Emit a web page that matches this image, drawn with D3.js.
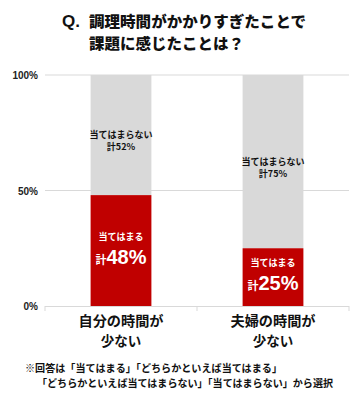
<!DOCTYPE html>
<html><head><meta charset="utf-8">
<script src="https://cdn.jsdelivr.net/npm/d3@7/dist/d3.min.js"></script>
<style>body{margin:0;background:#fff}svg{display:block;font-family:"Noto Sans CJK JP","Noto Sans",sans-serif}</style>
</head><body><svg id="c" width="361" height="400"></svg>
<script>
const categories = [["自分の時間が","少ない"],["夫婦の時間が","少ない"]];
const applies = [48, 25];
const notApplies = [52, 75];
const yTicks = [0, 50, 100];
const titleLines = ["調理時間がかかりすぎたことで","課題に感じたことは？"];
const noteLines = ["※回答は「当てはまる」「どちらかといえば当てはまる」","「どちらかといえば当てはまらない」「当てはまらない」から選択"];

const svg = d3.select("#c");
const pL = 45, pR = 349, pT = 75, pB = 306;
const x = d3.scaleBand().domain([0,1]).range([pL,pR]).paddingInner(0.6).paddingOuter(0.3);
const y = d3.scaleLinear().domain([0,100]).range([pB, pT]);

// gridlines
svg.append("g").selectAll("line").data(yTicks.filter(d=>d>0)).join("line")
  .attr("x1",pL).attr("x2",pR).attr("y1",d=>y(d)).attr("y2",d=>y(d))
  .attr("stroke","#d9d9d9").attr("stroke-width",1);
// y labels
svg.append("g").selectAll("text").data(yTicks).join("text")
  .attr("x",38).attr("y",d=>y(d)+4).attr("text-anchor","end")
  .attr("font-family","Arial, 'Liberation Sans', sans-serif")
  .attr("font-size",10).attr("font-weight","bold").attr("fill","#222").text(d=>d+"%");

// bars
const g = svg.append("g");
g.selectAll("rect.n").data(notApplies).join("rect").attr("class","n")
  .attr("x",(d,i)=>x(i)).attr("width",x.bandwidth())
  .attr("y",y(100)).attr("height",(d,i)=>y(applies[i])-y(100)).attr("fill","#d9d9d9");
g.selectAll("rect.a").data(applies).join("rect").attr("class","a")
  .attr("x",(d,i)=>x(i)).attr("width",x.bandwidth())
  .attr("y",d=>y(d)).attr("height",d=>y(0)-y(d)).attr("fill","#c00000");

// x axis line + ticks
svg.append("line").attr("x1",pL).attr("x2",pR).attr("y1",pB+0.5).attr("y2",pB+0.5).attr("stroke","#d9d9d9");
const bounds = [pL, (pL+pR)/2, pR];
svg.append("g").selectAll("line").data(bounds).join("line")
  .attr("x1",d=>d).attr("x2",d=>d).attr("y1",pB).attr("y2",pB+5).attr("stroke","#d9d9d9");

// labels in bars
categories.forEach((c,i)=>{
  const cx = x(i)+x.bandwidth()/2;
  const ny = (y(100)+y(applies[i]))/2;
  svg.append("text").attr("x",cx).attr("y",ny+3).attr("text-anchor","middle").attr("font-size",9).attr("font-weight","bold").attr("fill","#111").text("当てはまらない");
  svg.append("text").attr("x",cx).attr("y",ny+15).attr("text-anchor","middle").attr("font-size",9).attr("font-weight","bold").attr("fill","#111").text("計"+notApplies[i]+"%");
  const ay = (y(applies[i])+y(0))/2;
  svg.append("text").attr("x",cx).attr("y",ay-11).attr("text-anchor","middle").attr("font-size",9).attr("font-weight","bold").attr("fill","#fff").text("当てはまる");
  const t2 = svg.append("text").attr("x",cx).attr("y",ay+13).attr("text-anchor","middle").attr("font-weight","bold").attr("fill","#fff");
  t2.append("tspan").attr("font-size",11).text("計");
  t2.append("tspan").attr("font-size",20).attr("font-family","Arial, 'Liberation Sans', sans-serif").text(applies[i]+"%");
  svg.append("text").attr("x",cx).attr("y",326).attr("text-anchor","middle").attr("font-size",13.5).attr("font-weight","bold").attr("fill","#111")
    .attr("textLength",85).attr("lengthAdjust","spacingAndGlyphs").text(c[0]);
  svg.append("text").attr("x",cx).attr("y",345.8).attr("text-anchor","middle").attr("font-size",13.5).attr("font-weight","bold").attr("fill","#111").text(c[1]);
});

// title
svg.append("text").attr("x",62).attr("y",27).attr("font-size",17).attr("font-weight","bold").attr("fill","#111").attr("font-family","Arial, 'Liberation Sans', sans-serif").text("Q.");
svg.append("text").attr("x",89).attr("y",26.5).attr("font-size",15).attr("font-weight",900).attr("fill","#111")
  .attr("textLength",217).attr("lengthAdjust","spacingAndGlyphs").text(titleLines[0]);
svg.append("text").attr("x",89).attr("y",48.5).attr("font-size",15).attr("font-weight",900).attr("fill","#111")
  .attr("textLength",155).attr("lengthAdjust","spacingAndGlyphs").text(titleLines[1]);

// note
svg.append("text").attr("x",25).attr("y",372).attr("font-size",10.5).attr("font-weight","bold").attr("fill","#111")
  .attr("textLength",257).attr("lengthAdjust","spacingAndGlyphs").text(noteLines[0]);
svg.append("text").attr("x",37).attr("y",387.4).attr("font-size",10.5).attr("font-weight","bold").attr("fill","#111")
  .attr("textLength",296).attr("lengthAdjust","spacingAndGlyphs").text(noteLines[1]);
</script></body></html>
